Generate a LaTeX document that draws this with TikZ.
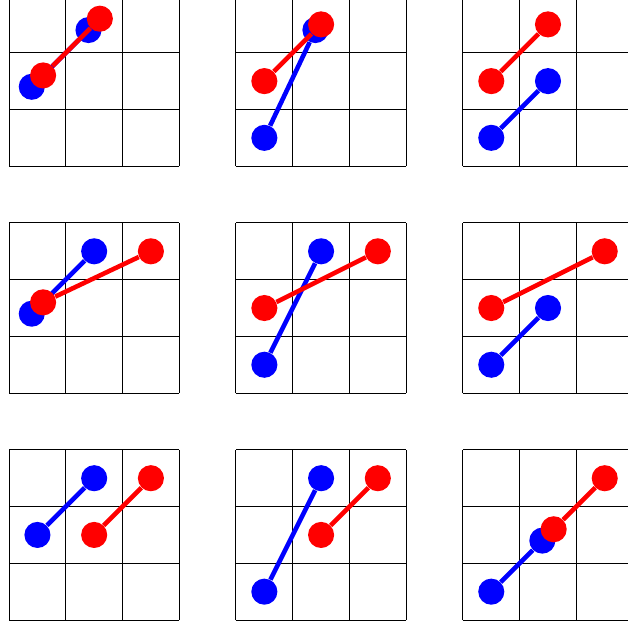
\documentclass[tikz,border=0pt]{standalone}
\usepackage{tikz}

\tikzset{
  rejilla/.style={line width=0.5pt, black},
  azul/.style={circle, fill=blue, inner sep=0pt, minimum size=0.46cm},
  rojo/.style={circle, fill=red, inner sep=0pt, minimum size=0.46cm},
  trazoazul/.style={blue, line width=2.3pt},
  trazorojo/.style={red, line width=2.3pt}
}

\begin{document}
\begin{tikzpicture}

    \useasboundingbox (-0.16,-0.14) rectangle (10.91,10.93);
    \clip (-0.16,-0.14) rectangle (10.91,10.93);

% Paneles: desplazamiento / azul inicio / azul fin / rojo inicio / rojo fin
	\foreach \px/\py/\ba/\bb/\ra/\rb [count=\i] in {
		0/8/{0.4,1.4}/{1.4,2.4}/{0.6,1.6}/{1.6,2.6},
		4/8/{0.5,0.5}/{1.4,2.4}/{0.5,1.5}/{1.5,2.5},
		8/8/{0.5,0.5}/{1.5,1.5}/{0.5,1.5}/{1.5,2.5},
		0/4/{0.4,1.4}/{1.5,2.5}/{0.6,1.6}/{2.5,2.5},
		4/4/{0.5,0.5}/{1.5,2.5}/{0.5,1.5}/{2.5,2.5},
		8/4/{0.5,0.5}/{1.5,1.5}/{0.5,1.5}/{2.5,2.5},
		0/0/{0.5,1.5}/{1.5,2.5}/{1.5,1.5}/{2.5,2.5},
		4/0/{0.5,0.5}/{1.5,2.5}/{1.5,1.5}/{2.5,2.5},
		8/0/{0.5,0.5}/{1.4,1.4}/{1.6,1.6}/{2.5,2.5}}
	{
	\begin{scope}[shift={(\px,\py)}]
		\draw[rejilla] (0,0) grid (3,3);

		% Segmento azul
		\node[azul] (azul\i-a) at (\ba) {};
		\node[azul] (azul\i-b) at (\bb) {};
		\draw[trazoazul] (azul\i-a) -- (azul\i-b);

		% Segmento rojo
		\node[rojo] (rojo\i-a) at (\ra) {};
		\node[rojo] (rojo\i-b) at (\rb) {};
		\draw[trazorojo] (rojo\i-a) -- (rojo\i-b);
	\end{scope}
	}
\end{tikzpicture}
\end{document}
